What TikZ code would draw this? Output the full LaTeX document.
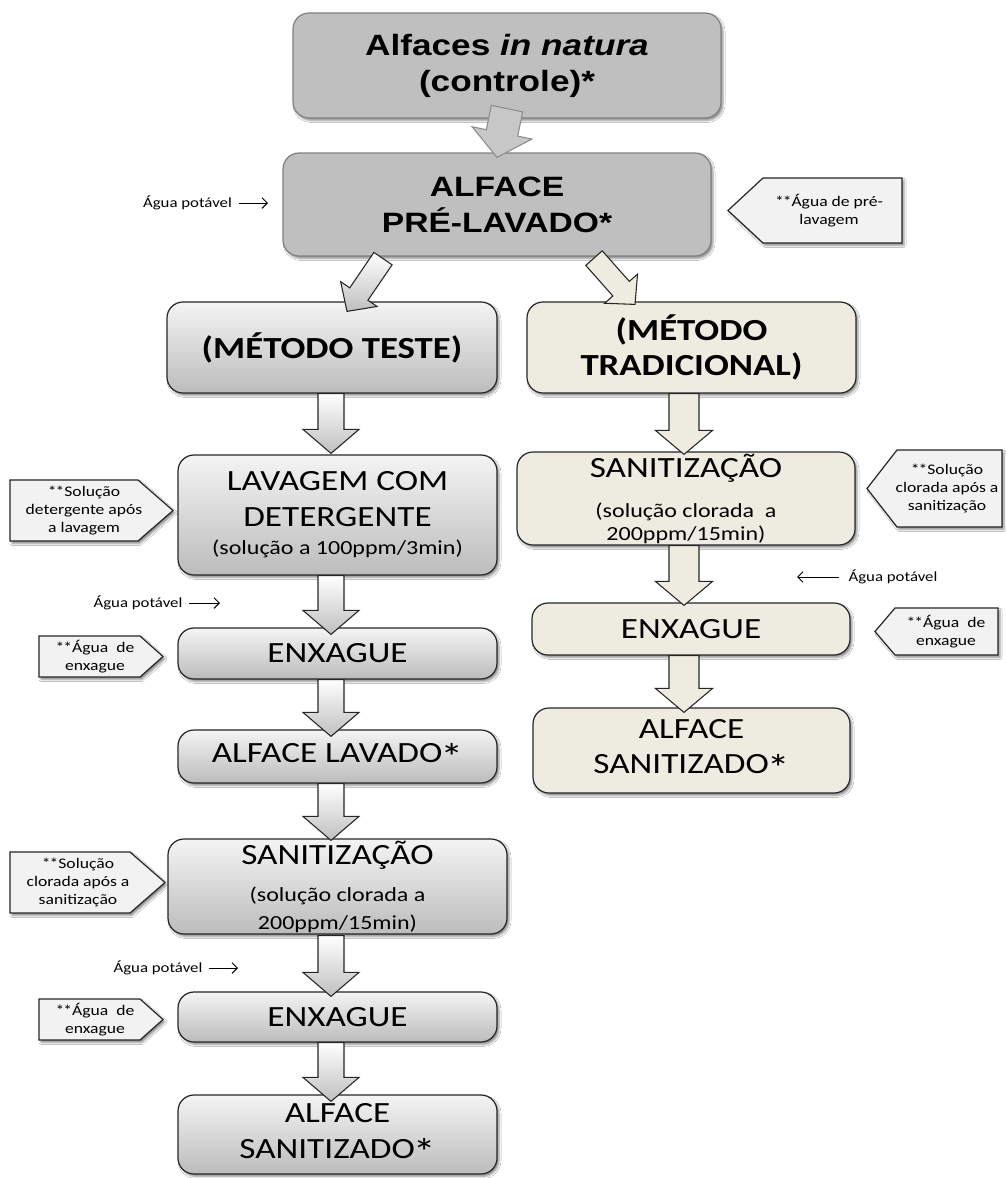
\documentclass[tikz,border=0pt]{standalone}
\usepackage{fontspec}
\usepackage{graphicx}
\setmainfont[FakeStretch=1.2]{Carlito}
\newfontfamily\arialfont[FakeStretch=1.2]{Liberation Sans}
\usetikzlibrary{calc,shadows.blur,arrows.meta}
\definecolor{topfill}{HTML}{BFBFBF}
\definecolor{beige}{HTML}{EEECE1}
\definecolor{callfill}{HTML}{F2F2F2}
\definecolor{gtop}{HTML}{F4F4F4}
\definecolor{gbot}{HTML}{BCBCBC}
\newcommand\bigast{\kern-1.5pt\raisebox{-0.55ex}{\scalebox{1.3}{*}}}
\newcommand\dast{*\kern-0.8pt*}
\tikzset{
  shad/.style={blur shadow={shadow xshift=1.5pt, shadow yshift=-1.8pt, shadow blur radius=1.5pt, shadow opacity=45}},
  wh/.style 2 args={minimum width=#1*0.75pt, minimum height=#2*0.75pt},
  topbox/.style={rounded corners=12pt, draw=black!50, fill=topfill, line width=0.9pt, shad, align=center, inner sep=1pt,
     font=\arialfont\bfseries\fontsize{22}{27}\selectfont},
  gbox/.style={rounded corners=12pt, draw=black!85, top color=gtop, bottom color=gbot, line width=0.9pt, shad, align=center, inner sep=1pt,
     font=\fontsize{22}{27}\selectfont},
  bbox/.style={rounded corners=12pt, draw=black!85, fill=beige, line width=0.9pt, shad, align=center, inner sep=1pt,
     font=\fontsize{22}{27}\selectfont},
  garrow/.style={draw=black!85, line width=0.8pt, top color=white, bottom color=gray!50, line join=miter},
  barrow/.style={draw=black!85, line width=0.8pt, fill=beige, line join=miter},
  tarrow/.style={draw=black!45, line width=0.8pt, fill=black!22, line join=miter},
  callout/.style={draw=black!85, fill=callfill, line width=0.9pt, shad, line join=miter},
  ctext/.style={font=\fontsize{11}{13.5}\selectfont, align=center, inner sep=0pt},
  wlabel/.style={font=\fontsize{10.5}{12}\selectfont, inner sep=0pt},
  warrow/.style={-{Straight Barb[length=4pt,width=8pt]}, line width=0.7pt},
}
% block arrow: style, start, end, shaft half width, head half width, head length
\newcommand\barr[6]{%
  \coordinate (bA) at #2; \coordinate (bB) at #3;
  \coordinate (bH) at ($(bB)!#6!(bA)$);
  \draw[#1] ($(bA)!#4!90:(bB)$) -- ($(bH)!#4!90:(bB)$) -- ($(bH)!#5!90:(bB)$) -- (bB)
     -- ($(bH)!#5!-90:(bB)$) -- ($(bH)!#4!-90:(bB)$) -- ($(bA)!#4!-90:(bB)$) -- cycle;
}
\begin{document}
\begin{tikzpicture}[x=0.75pt, y=-0.75pt]
\useasboundingbox (0,0) rectangle (1006,1178);
\fill[white] (0,0) rectangle (1006,1178);

% main boxes
\node[topbox, wh={428}{105}] (top) at (507,65.5) {Alfaces \textit{in natura}\\(controle)*};
\node[topbox, wh={428}{103}, font=\arialfont\bfseries\fontsize{21}{27}\selectfont] (pre) at (497,204.5) {ALFACE\\PRÉ-LAVADO*};
\node[gbox, wh={330}{91}, font=\bfseries\fontsize{23}{26}\selectfont] (teste) at (332,347.5) {(MÉTODO TESTE)};
\node[bbox, wh={329}{91}, font=\bfseries\fontsize{23}{26}\selectfont] (trad) at (691.5,347.5) {(MÉTODO\\TRADICIONAL)};

\node[gbox, wh={319}{120}] (lav) at (337.5,515) {LAVAGEM COM\\DETERGENTE\\[-6pt]{\fontsize{15}{18}\selectfont (solução a 100ppm/3min)}};
\node[gbox, wh={319}{51}] (enx1) at (337.5,653.5) {ENXAGUE};
\node[gbox, wh={319}{53}] (lavado) at (337.5,756.5) {ALFACE LAVADO\bigast};
\node[gbox, wh={339}{95}, font=\fontsize{22}{21}\selectfont] (san) at (337.5,886.5) {SANITIZAÇÃO\\[6.75pt]{\fontsize{15}{18}\selectfont (solução clorada a}\\{\fontsize{15}{18}\selectfont 200ppm/15min)}};
\node[gbox, wh={319}{50}] (enx2) at (337.5,1017) {ENXAGUE};
\node[gbox, wh={319}{79}] (fin) at (337.5,1134.5) {ALFACE\\SANITIZADO\bigast};

\node[bbox, wh={338}{93}, font=\fontsize{22}{17.25}\selectfont] (sanr) at (686,498.5) {SANITIZAÇÃO\\[12.75pt]{\fontsize{15}{18}\selectfont (solução clorada~ a}\\{\fontsize{15}{18}\selectfont 200ppm/15min)}};
\node[bbox, wh={318}{52}] (enxr) at (691,629) {ENXAGUE};
\node[bbox, wh={317}{85}, font=\fontsize{22}{26}\selectfont] (finr) at (691.5,750.5) {ALFACE\\SANITIZADO\bigast};

% block arrows
\barr{tarrow}{($(top.south)+(0,-10)$)}{($(pre.north)+(0,5)$)}{12pt}{22.9pt}{18.75pt}
\barr{garrow}{($(pre.south)+(-114,2)$)}{($(teste.north)+(15,10)$)}{8.25pt}{16.5pt}{15.75pt}
\barr{barrow}{($(pre.south)+(97,1.5)$)}{($(trad.north)+(-56.5,3)$)}{8.25pt}{16.5pt}{15.75pt}

\barr{garrow}{($(teste.south)+(-1,0)$)}{($(lav.north)+(-6.5,-1)$)}{9.75pt}{21pt}{18pt}
\barr{garrow}{($(lav.south)+(-6.5,0)$)}{($(enx1.north)+(-6.5,7)$)}{9.75pt}{21pt}{18pt}
\barr{garrow}{($(enx1.south)+(-6.5,0)$)}{($(lavado.north)+(-6.5,7)$)}{9.75pt}{21pt}{18pt}
\barr{garrow}{($(lavado.south)+(-6.5,0)$)}{($(san.north)+(-6.5,2)$)}{9.75pt}{21pt}{18pt}
\barr{garrow}{($(san.south)+(-6.5,1)$)}{($(enx2.north)+(-6.5,5)$)}{9.75pt}{21pt}{18pt}
\barr{garrow}{($(enx2.south)+(-6.5,0)$)}{($(fin.north)+(-6.5,7)$)}{9.75pt}{21pt}{18pt}

\barr{barrow}{($(trad.south)+(-7.5,0)$)}{($(sanr.north)+(-2,3)$)}{11.25pt}{21.4pt}{18pt}
\barr{barrow}{($(sanr.south)+(-2,0)$)}{($(enxr.north)+(-7,3)$)}{11.25pt}{21.4pt}{18pt}
\barr{barrow}{($(enxr.south)+(-7,0)$)}{($(finr.north)+(-7.5,5)$)}{11.25pt}{21.4pt}{18pt}

% callouts (right side, pointing left)
\draw[callout] (902,178) -- (763,178) -- (728,210.5) -- (763,243) -- (902,243) -- cycle;
\node[ctext] (cpre) at (829,210.5) {\dast Água de pré-\\lavagem};
\draw[callout] (1002,450) -- (897,450) -- (867,488.5) -- (897,527) -- (1002,527) -- cycle;
\node[ctext] (ccl1) at (947,488.5) {\dast Solução\\clorada após a\\sanitização};
\draw[callout] (998,608) -- (895,608) -- (875,631.5) -- (895,655) -- (998,655) -- cycle;
\node[ctext] (cag1) at (946,631.5) {\dast Água~ de\\enxague};

% callouts (left side, pointing right)
\draw[callout] (10,480) -- (138,480) -- (173,510.5) -- (138,541) -- (10,541) -- cycle;
\node[ctext] (cdet) at (84,510.5) {\dast Solução\\detergente após\\a lavagem};
\draw[callout] (39,636) -- (140,636) -- (163,656.5) -- (140,677) -- (39,677) -- cycle;
\node[ctext] (cag2) at (95,656.5) {\dast Água~ de\\enxague};
\draw[callout] (10,852) -- (130,852) -- (165,882.5) -- (130,913) -- (10,913) -- cycle;
\node[ctext] (ccl2) at (78,882.5) {\dast Solução\\clorada após a\\sanitização};
\draw[callout] (39,999) -- (140,999) -- (163,1019.5) -- (140,1040) -- (39,1040) -- cycle;
\node[ctext] (cag3) at (95,1019.5) {\dast Água~ de\\enxague};

% potable water labels
\node[wlabel] (ap0) at (187.5,203) {Água potável};
\coordinate (ap0e) at (268,203);
\draw[warrow] ([xshift=5pt]ap0.east) -- (ap0e);
\node[wlabel] (ap1) at (138,603) {Água potável};
\coordinate (ap1e) at (220,603);
\draw[warrow] ([xshift=5pt]ap1.east) -- (ap1e);
\node[wlabel] (ap2) at (893,577) {Água potável};
\coordinate (ap2e) at (797,577);
\draw[warrow] ([xshift=-7pt]ap2.west) -- (ap2e);
\node[wlabel] (ap3) at (158,968) {Água potável};
\coordinate (ap3e) at (238,968);
\draw[warrow] ([xshift=5pt]ap3.east) -- (ap3e);
\end{tikzpicture}
\end{document}
